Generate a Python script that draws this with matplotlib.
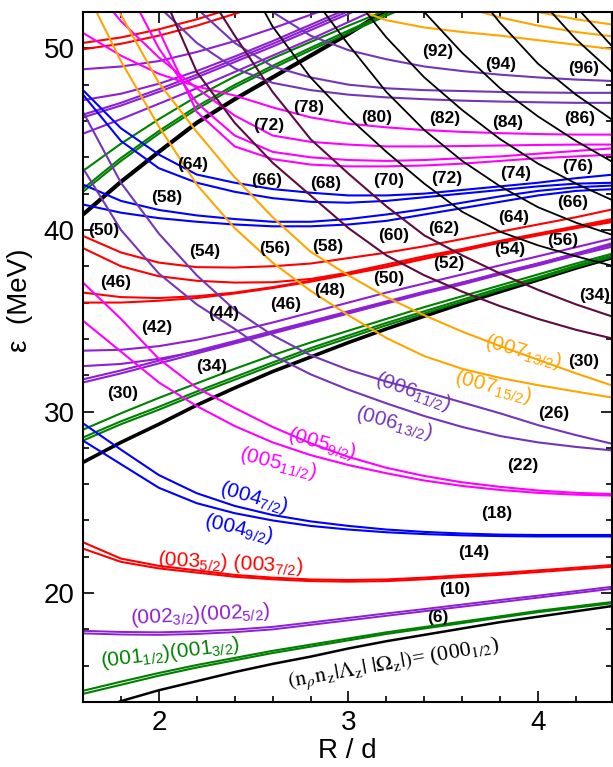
import matplotlib
matplotlib.use("Agg")
import matplotlib.pyplot as plt
import numpy as np
from matplotlib.ticker import MultipleLocator

plt.rcParams['font.family'] = ['Liberation Sans', 'DejaVu Sans']

N = None

# R/d grid the levels were read at
R = [1.6, 1.8, 2.0, 2.2, 2.4, 2.6, 2.8, 3.0, 3.2, 3.4, 3.6, 3.8, 4.0, 4.2, 4.4]

# |Lambda| = 0 (black, thick)
lam0_n0 = [13.3, 14.05, 14.65, 15.15, 15.65, 16.1, 16.5, 16.95, 17.35, 17.7, 18.05, 18.4, 18.7, 19.0, 19.3]
lam0_n1 = [27.2, 28.3, 29.3, 30.35, 31.3, 32.2, 33.0, 33.8, 34.55, 35.25, 35.95, 36.6, 37.25, 37.9, 38.5]
lam0_n2 = [40.85, 42.65, 44.3, 45.9, 47.2, 48.4, 49.6, 50.8, 52.1, 53.3, 54.4, N, N, N, N]

# |Lambda| = 1 (green)
lam1_n0a = [14.45, 14.95, 15.45, 15.9, 16.3, 16.7, 17.05, 17.4, 17.75, 18.05, 18.35, 18.65, 18.95, 19.2, 19.45]
lam1_n0b = [14.62, 15.12, 15.6, 16.04, 16.43, 16.82, 17.16, 17.5, 17.84, 18.13, 18.43, 18.72, 19.02, 19.27, 19.52]
lam1_n1a = [28.4, 29.3, 30.1, 30.95, 31.75, 32.55, 33.35, 34.05, 34.75, 35.4, 36.05, 36.7, 37.3, 37.95, 38.55]
lam1_n1b = [28.57, 29.46, 30.26, 31.1, 31.9, 32.7, 33.49, 34.19, 34.88, 35.52, 36.16, 36.8, 37.39, 38.03, 38.62]
lam1_n1c = [29.0, 29.9, 30.75, 31.55, 32.35, 33.1, 33.8, 34.45, 35.1, 35.75, 36.35, 36.95, 37.55, 38.15, 38.72]
lam1_n2a = [42.1, 43.8, 45.3, 46.65, 47.85, 48.9, 49.9, 50.85, 51.8, 52.7, 53.6, N, N, N, N]
lam1_n2b = [42.27, 43.96, 45.45, 46.8, 47.99, 49.04, 50.03, 50.98, 51.92, 52.82, 53.7, N, N, N, N]
lam1_n2c = [43.25, 44.75, 46.1, 47.35, 48.45, 49.45, 50.35, 51.25, 52.1, 53.0, N, N, N, N, N]

# |Lambda| = 2 (purple)
lam2_n0a = [17.78, 17.72, 17.7, 17.75, 17.85, 18.0, 18.25, 18.5, 18.75, 19.0, 19.25, 19.5, 19.75, 20.0, 20.25]
lam2_n0b = [17.92, 17.86, 17.84, 17.89, 17.99, 18.14, 18.38, 18.63, 18.88, 19.12, 19.37, 19.62, 19.86, 20.11, 20.36]
lam2_n1a = [33.35, 33.4, 33.6, 33.95, 34.4, 34.9, 35.45, 36.0, 36.55, 37.05, 37.55, 38.05, 38.55, 39.05, 39.55]
lam2_n1b = [32.5, 32.62, 32.9, 33.3, 33.8, 34.35, 34.9, 35.45, 36.0, 36.55, 37.1, 37.6, 38.15, 38.7, 39.3]
lam2_n1c = [31.6, 32.1, 32.65, 33.2, 33.75, 34.3, 34.85, 35.4, 35.95, 36.5, 37.0, 37.55, 38.05, 38.6, 39.1]
lam2_n1d = [31.77, 32.26, 32.8, 33.34, 33.88, 34.43, 34.97, 35.52, 36.06, 36.6, 37.1, 37.65, 38.15, 38.7, 39.2]
lam2_n2a = [48.85, 49.0, 49.3, 49.8, 50.4, 51.1, 51.85, 52.6, N, N, N, N, N, N, N]
lam2_n2b = [47.15, 47.5, 48.05, 48.75, 49.55, 50.4, 51.3, 52.2, N, N, N, N, N, N, N]
lam2_n2c = [46.2, 46.85, 47.6, 48.4, 49.25, 50.1, 51.0, 51.9, 52.8, N, N, N, N, N, N]
lam2_n2d = [46.35, 47.0, 47.75, 48.55, 49.4, 50.25, 51.15, 52.05, 52.95, N, N, N, N, N, N]
lam2_n2e = [45.3, 46.1, 46.95, 47.8, 48.7, 49.6, 50.5, 51.45, 52.4, N, N, N, N, N, N]

# |Lambda| = 3 (red)
lam3_n0a = [22.8, 21.9, 21.5, 21.25, 21.0, 20.85, 20.75, 20.72, 20.75, 20.85, 20.98, 21.1, 21.25, 21.4, 21.55]
lam3_n0b = [22.45, 21.72, 21.36, 21.13, 20.9, 20.76, 20.66, 20.63, 20.66, 20.76, 20.89, 21.01, 21.16, 21.31, 21.46]
lam3_n1a = [39.67, 38.76, 38.2, 37.95, 37.93, 38.0, 38.15, 38.45, 38.75, 39.1, 39.5, 39.9, 40.3, 40.7, 41.15]
lam3_n1b = [39.0, 38.0, 37.45, 37.2, 37.1, 37.12, 37.3, 37.65, 38.1, 38.55, 38.95, 39.4, 39.8, 40.2, 40.62]
lam3_n1c = [36.55, 36.3, 36.25, 36.35, 36.55, 36.85, 37.2, 37.6, 38.0, 38.45, 38.9, 39.35, 39.75, 40.15, 40.52]
lam3_n1d = [36.0, 36.0, 36.1, 36.25, 36.5, 36.8, 37.15, 37.55, 37.95, 38.4, 38.85, 39.3, 39.7, 40.1, 40.45]
lam3_n2a = [50.3, 50.6, 51.05, 51.6, 52.25, N, N, N, N, N, N, N, N, N, N]
lam3_n2b = [49.95, 50.25, 50.7, 51.25, 51.9, 52.6, N, N, N, N, N, N, N, N, N]

# |Lambda| = 4 (blue)
lam4_n0a = [29.35, 27.9, 26.5, 25.5, 24.8, 24.3, 23.95, 23.7, 23.5, 23.37, 23.28, 23.22, 23.2, 23.2, 23.2]
lam4_n0b = [28.4, 27.1, 25.8, 24.95, 24.4, 24.0, 23.7, 23.5, 23.35, 23.25, 23.18, 23.14, 23.12, 23.12, 23.12]
lam4_n1a = [47.7, 45.6, 44.15, 43.05, 42.6, 42.25, 42.05, 41.9, 41.9, 42.0, 42.2, 42.4, 42.6, 42.85, 43.05]
lam4_n1b = [47.45, 44.9, 43.4, 42.6, 42.1, 41.75, 41.55, 41.5, 41.6, 41.8, 42.0, 42.2, 42.4, 42.55, 42.6]
lam4_n1c = [42.5, 41.6, 41.1, 40.8, 40.6, 40.45, 40.45, 40.6, 40.85, 41.15, 41.5, 41.85, 42.15, 42.35, 42.45]
lam4_n1d = [41.4, 40.95, 40.65, 40.45, 40.3, 40.2, 40.2, 40.3, 40.5, 40.85, 41.2, 41.55, 41.9, 42.15, 42.25]

# |Lambda| = 5 (magenta)
lam5_n0a = [37.1, 35.1, 32.9, 31.3, 30.2, 29.15, 28.25, 27.5, 26.9, 26.45, 26.1, 25.85, 25.65, 25.52, 25.45]
lam5_n0b = [35.0, 33.3, 31.6, 30.3, 29.2, 28.3, 27.6, 27.05, 26.6, 26.2, 25.9, 25.68, 25.52, 25.42, 25.37]
lam5_n1a = [50.85, 49.6, 48.6, 47.9, 47.4, 46.75, 46.2, 45.85, 45.65, 45.5, 45.4, 45.33, 45.28, 45.25, 45.25]
lam5_n1b = [54.0, 51.5, 49.5, 47.8, 46.3, 45.2, 44.85, 44.7, 44.6, 44.6, 44.62, 44.65, 44.68, 44.7, 44.7]
lam5_n1c = [N, 54.0, 50.0, 47.0, 45.2, 44.3, 44.0, 43.85, 43.8, 43.85, 43.95, 44.05, 44.2, 44.35, 44.5]
lam5_n1d = [N, N, 51.0, 46.5, 44.6, 43.9, 43.6, 43.5, 43.5, 43.55, 43.65, 43.8, 43.95, 44.05, 44.15]

# |Lambda| = 6 (violet)
lam6_n0a = [46.5, 42.6, 39.8, 37.5, 35.6, 34.2, 33.1, 32.3, 31.65, 31.1, 30.5, 29.9, 29.25, 28.7, 28.2]
lam6_n0b = [43.4, 40.0, 37.6, 35.9, 34.55, 33.1, 32.05, 31.2, 30.45, 29.75, 29.15, 28.65, 28.3, 28.05, 27.85]
lam6_n1a = [N, N, N, N, 54.0, 52.0, 50.7, 49.9, 49.4, 49.0, 48.75, 48.55, 48.4, 48.28, 48.2]
lam6_n1b = [N, N, N, 52.2, 50.3, 49.0, 48.4, 48.0, 47.8, 47.7, 47.65, 47.6, 47.57, 47.55, 47.55]
lam6_n1c = [N, N, 52.3, 50.3, 48.9, 48.1, 47.7, 47.45, 47.3, 47.2, 47.12, 47.07, 47.03, 47.0, 47.0]

# |Lambda| = 7 (orange)
lam7_n0a = [57.0, 51.85, 48.1, 45.4, 42.9, 40.7, 38.8, 37.5, 36.3, 35.3, 34.4, 33.6, 32.85, 32.1, 31.4]
lam7_n0b = [53.5, 49.3, 45.7, 42.5, 40.1, 38.2, 36.65, 35.3, 34.05, 33.05, 32.35, 31.85, 31.45, 31.1, 30.75]
lam7_n1a = [N, N, N, N, N, N, N, 52.3, 51.55, 51.15, 50.9, 50.7, 50.45, 50.2, 49.95]
lam7_n1b = [N, N, N, N, N, N, N, N, N, 53.0, 52.3, 51.7, 51.25, 50.9, 50.65]
lam7_n1c = [N, N, N, N, N, N, N, N, N, N, 53.3, 52.5, 52.0, 51.6, 51.3]

# |Lambda| = 8 (dark maroon)
lam8_n0a = [N, N, 53.5, 48.7, 45.9, 43.7, 41.9, 40.1, 38.6, 37.5, 36.6, 35.8, 35.1, 34.5, 34.0]
lam8_n0b = [N, N, N, 54.0, 50.7, 47.6, 45.0, 43.1, 41.3, 39.7, 38.6, 37.6, 36.7, 35.9, 35.2]

# |Lambda| >= 9 (black, thin)
hi_2 = [N, N, N, N, 55.0, 51.2, 48.4, 46.2, 44.3, 42.55, 41.0, 39.9, 39.15, 38.55, 38.0]
hi_3 = [N, N, N, N, N, N, 53.0, 50.2, 47.6, 45.5, 43.8, 42.4, 41.25, 40.4, 39.7]
hi_4 = [N, N, N, N, N, N, N, 53.2, 50.6, 48.4, 46.6, 45.0, 43.65, 42.55, 41.6]
hi_5 = [N, N, N, N, N, N, N, N, 54.5, 52.0, 49.75, 47.8, 46.25, 44.9, 43.7]
hi_6 = [N, N, N, N, N, N, N, N, N, N, 54.0, 51.4, 49.15, 47.45, 46.0]
hi_7 = [N, N, N, N, N, N, N, N, N, N, N, 55.0, 52.8, 50.5, 48.6]
hi_8 = [N, N, N, N, N, N, N, N, N, N, N, N, 55.0, 52.3, 50.0]

# shell-gap particle numbers
gap_text = ['(92)', '(94)', '(96)', '(78)', '(72)', '(80)', '(82)', '(84)', '(86)',
            '(64)', '(66)', '(68)', '(70)', '(72)', '(74)', '(76)',
            '(58)', '(60)', '(62)', '(64)', '(66)', '(50)', '(54)', '(56)', '(58)',
            '(56)', '(54)', '(52)', '(50)', '(46)', '(48)', '(46)', '(44)', '(42)',
            '(34)', '(34)', '(30)', '(30)', '(26)', '(22)', '(18)', '(14)', '(10)', '(6)']
gap_x = [3.47, 3.80, 4.24, 2.79, 2.58, 3.15, 3.51, 3.84, 4.22,
         2.18, 2.57, 2.88, 3.21, 3.52, 3.88, 4.21,
         2.04, 3.24, 3.50, 3.87, 4.18, 1.71, 2.24, 2.61, 2.89,
         4.13, 3.85, 3.53, 3.21, 1.77, 2.90, 2.67, 2.34, 1.99,
         4.30, 2.28, 1.81, 4.24, 4.08, 3.92, 3.78, 3.66, 3.56, 3.47]
gap_y = [49.84, 49.12, 48.9, 46.76, 45.77, 46.2, 46.15, 45.9, 46.15,
         43.6, 42.7, 42.53, 42.7, 42.86, 43.13, 43.5,
         41.8, 39.67, 40.1, 40.7, 41.5, 39.95, 38.8, 39.0, 39.1,
         39.4, 38.9, 38.13, 37.3, 37.1, 36.65, 35.9, 35.4, 34.6,
         36.37, 32.47, 31.0, 32.75, 29.9, 27.03, 24.4, 22.25, 20.22, 18.63]

# orbital labels (n_rho n_z |Lambda| |Omega|)
orb_text = ['(001$_{\\mathregular{1/2}}$)(001$_{\\mathregular{3/2}}$)',
            '(002$_{\\mathregular{3/2}}$)(002$_{\\mathregular{5/2}}$)',
            '(003$_{\\mathregular{5/2}}$) (003$_{\\mathregular{7/2}}$)',
            '(004$_{\\mathregular{7/2}}$)', '(004$_{\\mathregular{9/2}}$)',
            '(005$_{\\mathregular{11/2}}$)', '(005$_{\\mathregular{9/2}}$)',
            '(006$_{\\mathregular{13/2}}$)', '(006$_{\\mathregular{11/2}}$)',
            '(007$_{\\mathregular{15/2}}$)', '(007$_{\\mathregular{13/2}}$)']
orb_x = [2.06, 2.22, 2.38, 2.50, 2.42, 2.63, 2.86, 3.24, 3.34, 3.76, 3.92]
orb_y = [16.7, 18.8, 21.65, 25.27, 23.57, 27.14, 28.24, 29.34, 31.1, 31.32, 33.3]
orb_rot = [7, 3, -3, -16, -13, -14, -16, -15, -20, -15, -16]

c_l0, c_l1, c_l2, c_l3 = 'black', '#008000', '#8e1fd4', '#ff0000'
c_l4, c_l5, c_l6, c_l7, c_l8 = '#0000ff', '#ff00ff', '#7436b8', '#ffa500', '#5e0b3f'
orb_col = [c_l1, c_l2, c_l3, c_l4, c_l4, c_l5, c_l5, c_l6, c_l6, c_l7, c_l7]

curves = [
    (lam0_n0, c_l0, 1.8), (lam0_n1, c_l0, 2.6), (lam0_n2, c_l0, 3.0),
    (lam1_n0a, c_l1, 1.5), (lam1_n0b, c_l1, 1.5), (lam1_n1a, c_l1, 1.5), (lam1_n1b, c_l1, 1.5),
    (lam1_n1c, c_l1, 1.5), (lam1_n2a, c_l1, 1.5), (lam1_n2b, c_l1, 1.5), (lam1_n2c, c_l1, 1.5),
    (lam2_n0a, c_l2, 1.4), (lam2_n0b, c_l2, 1.4), (lam2_n1a, c_l2, 1.5), (lam2_n1b, c_l2, 1.5),
    (lam2_n1c, c_l2, 1.5), (lam2_n1d, c_l2, 1.5), (lam2_n2a, c_l2, 1.5), (lam2_n2b, c_l2, 1.5),
    (lam2_n2c, c_l2, 1.5), (lam2_n2d, c_l2, 1.5), (lam2_n2e, c_l2, 1.5),
    (lam3_n0a, c_l3, 1.5), (lam3_n0b, c_l3, 1.5), (lam3_n1a, c_l3, 1.5), (lam3_n1b, c_l3, 1.5),
    (lam3_n1c, c_l3, 1.5), (lam3_n1d, c_l3, 1.5), (lam3_n2a, c_l3, 1.5), (lam3_n2b, c_l3, 1.5),
    (lam4_n0a, c_l4, 1.5), (lam4_n0b, c_l4, 1.5), (lam4_n1a, c_l4, 1.5), (lam4_n1b, c_l4, 1.5),
    (lam4_n1c, c_l4, 1.5), (lam4_n1d, c_l4, 1.5),
    (lam5_n0a, c_l5, 1.5), (lam5_n0b, c_l5, 1.5), (lam5_n1a, c_l5, 1.5), (lam5_n1b, c_l5, 1.5),
    (lam5_n1c, c_l5, 1.5), (lam5_n1d, c_l5, 1.5),
    (lam6_n0a, c_l6, 1.5), (lam6_n0b, c_l6, 1.5), (lam6_n1a, c_l6, 1.5), (lam6_n1b, c_l6, 1.5),
    (lam6_n1c, c_l6, 1.5),
    (lam7_n0a, c_l7, 1.5), (lam7_n0b, c_l7, 1.5), (lam7_n1a, c_l7, 1.5), (lam7_n1b, c_l7, 1.5),
    (lam7_n1c, c_l7, 1.5),
    (lam8_n0a, c_l8, 1.5), (lam8_n0b, c_l8, 1.5),
    (hi_2, 'black', 1.3), (hi_3, 'black', 1.3), (hi_4, 'black', 1.3),
    (hi_5, 'black', 1.3), (hi_6, 'black', 1.3), (hi_7, 'black', 1.3), (hi_8, 'black', 1.3),
]

fig = plt.figure(figsize=(6.13, 7.67), dpi=100)
ax = fig.add_axes([0.1354, 0.0847, 0.863, 0.8996])

x = np.array(R)
for vals, col, lw in curves:
    y = np.array([np.nan if v is None else v for v in vals], dtype=float)
    ax.plot(x, y, color=col, lw=lw, solid_capstyle='butt')

for s, gx, gy in zip(gap_text, gap_x, gap_y):
    ax.text(gx, gy, s, fontsize=12.5, fontweight='bold', ha='center', va='center')

for s, ox, oy, rot, col in zip(orb_text, orb_x, orb_y, orb_rot, orb_col):
    ax.text(ox, oy, s, fontsize=15, color=col, rotation=rot, ha='center', va='center',
            rotation_mode='anchor')

ax.text(3.24, 16.1,
        '$(\\mathrm{n}_\\rho\\mathrm{n}_\\mathrm{z}|\\Lambda_\\mathrm{z}|\\ |\\Omega_\\mathrm{z}|)$= (000$_{\\mathrm{1/2}}$)',
        fontsize=16, family='Liberation Serif', math_fontfamily='stix', rotation=10,
        ha='center', va='center', rotation_mode='anchor')

ax.set_xlim(1.6, 4.39)
ax.set_ylim(14, 52)
ax.xaxis.set_major_locator(MultipleLocator(1))
ax.xaxis.set_minor_locator(MultipleLocator(0.2))
ax.yaxis.set_major_locator(MultipleLocator(10))
ax.yaxis.set_minor_locator(MultipleLocator(2))
ax.tick_params(which='both', direction='in', top=True, right=True, width=1.2, labelsize=20)
ax.tick_params(which='major', length=8, pad=6)
ax.tick_params(which='minor', length=4.5)
for sp in ax.spines.values():
    sp.set_linewidth(1.5)

ax.set_xlabel('R / d', fontsize=20, labelpad=1)
ax.set_ylabel('ε  (MeV)', fontsize=20)
ax.yaxis.set_label_coords(-0.095, 0.583)

fig.savefig('out.png', dpi=100)
